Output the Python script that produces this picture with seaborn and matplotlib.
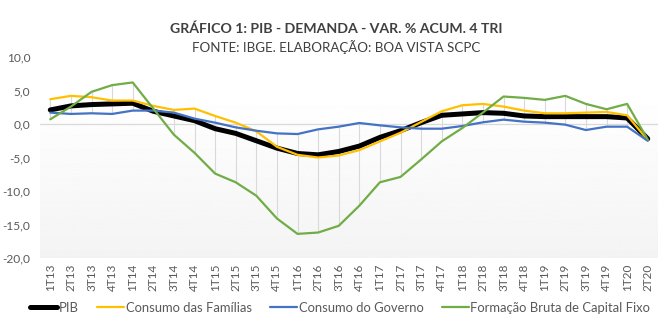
import numpy as np
import pandas as pd
import matplotlib
matplotlib.use("Agg")
import matplotlib.pyplot as plt
from matplotlib.lines import Line2D
import seaborn as sns

quarters = [
    "1T13", "2T13", "3T13", "4T13", "1T14", "2T14", "3T14", "4T14",
    "1T15", "2T15", "3T15", "4T15", "1T16", "2T16", "3T16", "4T16",
    "1T17", "2T17", "3T17", "4T17", "1T18", "2T18", "3T18", "4T18",
    "1T19", "2T19", "3T19", "4T19", "1T20", "2T20",
]

pib = [2.1, 2.7, 2.9, 3.0, 3.1, 1.9, 1.2, 0.5,
       -0.7, -1.4, -2.5, -3.6, -4.4, -4.6, -4.1, -3.3,
       -2.0, -1.0, 0.2, 1.3, 1.5, 1.7, 1.6, 1.2,
       1.1, 1.1, 1.1, 1.1, 0.9, -2.2]

familias = [3.7, 4.2, 4.0, 3.5, 3.5, 2.7, 2.1, 2.3,
            1.2, 0.2, -1.1, -3.4, -4.6, -5.0, -4.7, -3.9,
            -2.6, -1.3, 0.3, 1.9, 2.8, 3.0, 2.6, 2.0,
            1.6, 1.6, 1.7, 1.8, 1.3, -2.4]

governo = [1.7, 1.5, 1.6, 1.5, 2.0, 2.0, 1.7, 0.8,
           0.2, -0.5, -1.0, -1.4, -1.5, -0.8, -0.4, 0.15,
           -0.2, -0.5, -0.7, -0.7, -0.3, 0.25, 0.65, 0.35,
           0.2, -0.1, -0.9, -0.4, -0.4, -2.5]

fbcf = [0.7, 2.6, 4.8, 5.8, 6.2, 2.3, -1.6, -4.3,
        -7.4, -8.7, -10.7, -14.1, -16.4, -16.2, -15.2, -12.2,
        -8.7, -7.9, -5.3, -2.6, -0.6, 1.7, 4.1, 3.9,
        3.6, 4.2, 3.0, 2.2, 3.0, -2.3]

y_ticks = [10, 5, 0, -5, -10, -15, -20]

series_names = ["PIB", "Consumo das Famílias", "Consumo do Governo",
                "Formação Bruta de Capital Fixo"]
series_values = [pib, familias, governo, fbcf]
colors = ["#000000", "#FFC000", "#4472C4", "#70AD47"]
widths = [3.6, 1.6, 1.6, 1.6]

df = pd.DataFrame({"trimestre": quarters, "pos": np.arange(len(quarters))})
for name, vals in zip(series_names, series_values):
    df[name] = vals

sns.set_theme(style="white")
plt.rcParams["font.family"] = ["Lato", "DejaVu Sans"]

text_color = "#595959"

fig = plt.figure(figsize=(6.72, 3.24), dpi=100)
ax = fig.add_axes([40 / 672, 1 - 258 / 324, 618 / 672, 201 / 324])

# soft vertical gradient in the plot area
grad = np.ones((256, 1))
t = np.linspace(0, 1, 256)  # 0 = bottom, 1 = top
shade = np.where(t > 0.83, 1.0, 0.955 + (1.0 - 0.955) * (t / 0.83))
grad[:, 0] = shade
ax.imshow(grad, extent=[0, 1, 0, 1], transform=ax.transAxes, origin="lower",
          cmap="gray", vmin=0, vmax=1, aspect="auto", zorder=0)

# high-low lines between the extreme series at each quarter
vals = df[series_names].to_numpy()
ax.vlines(df["pos"], vals.min(axis=1), vals.max(axis=1),
          color="#d9d9d9", linewidth=0.8, zorder=1)

ax.axhline(0, color="#d9d9d9", linewidth=0.9, zorder=1)

for name, c, lw in zip(series_names, colors, widths):
    sns.lineplot(data=df, x="pos", y=name, ax=ax, color=c, linewidth=lw,
                 sort=False, zorder=3, legend=False)

ax.set_xlim(-0.5, len(quarters) - 0.5)
ax.set_ylim(-20, 10)
ax.set_xticks(df["pos"])
ax.set_xticklabels(quarters, rotation=90, fontsize=8.5, color=text_color)
ax.set_yticks(y_ticks)
ax.set_yticklabels([f"{v:.1f}".replace(".", ",") for v in y_ticks],
                   fontsize=8.6, color=text_color)
ax.tick_params(axis="both", length=0)
ax.tick_params(axis="y", pad=7)
ax.tick_params(axis="x", pad=4)
ax.set_xlabel("")
ax.set_ylabel("")
for s in ax.spines.values():
    s.set_visible(False)

fig.text(0.5, 1 - 29 / 324, "GRÁFICO 1: PIB - DEMANDA - VAR. % ACUM. 4 TRI",
         ha="center", va="center", fontsize=10.2, fontweight="bold",
         color="#404040")
fig.text(0.5, 1 - 47 / 324, "FONTE: IBGE. ELABORAÇÃO: BOA VISTA SCPC",
         ha="center", va="center", fontsize=9.6, color="#404040")

handles = [Line2D([0], [0], color=c, linewidth=lw)
           for c, lw in zip(colors, widths)]
leg = fig.legend(handles, series_names, loc="center", ncol=4,
                 bbox_to_anchor=(0.506, 1 - 308 / 324), frameon=False,
                 fontsize=9.4, handlelength=2.1, handletextpad=0.1,
                 columnspacing=1.4, labelcolor=text_color)

fig.savefig("out.png", dpi=100, facecolor="white")
